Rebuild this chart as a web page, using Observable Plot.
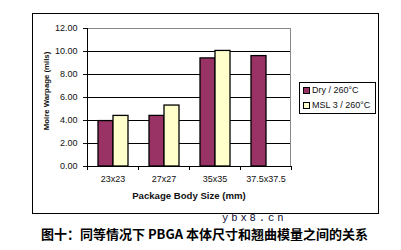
<!DOCTYPE html>
<html>
<head>
<meta charset="utf-8">
<script src="https://cdn.jsdelivr.net/npm/d3@7"></script>
<script src="https://cdn.jsdelivr.net/npm/@observablehq/plot@0.6"></script>
<style>
  html, body { margin: 0; padding: 0; background: #fff; }
  #wrap { position: relative; width: 401px; height: 250px; overflow: hidden; font-family: "Liberation Sans", Arial, sans-serif; }
  #chart { position: absolute; left: 0; top: 0; }
  .abs { position: absolute; white-space: nowrap; }
  #outer { left: 32px; top: 13px; width: 347px; height: 201px; border: 1px solid #000; box-sizing: border-box; }
  #legend { left: 299px; top: 82px; width: 77px; height: 32px; border: 1px solid #000; box-sizing: border-box; background: #fff; font-size: 9px; color: #111; }
  .lg { position: absolute; left: 3px; display: flex; align-items: center; }
  .sw { width: 5px; height: 5px; border: 1px solid #000; margin-right: 2px; }
  #ytitle { left: 46px; top: 91px; transform: translate(-50%, -50%) rotate(-90deg); font-size: 7.8px; font-weight: bold; color: #111; }
  #xtitle { left: 189px; top: 195px; transform: translate(-50%, -50%); font-size: 9.6px; font-weight: bold; color: #111; }
  #wm { left: 222px; top: 212.2px; font-family: "Liberation Mono", "DejaVu Sans Mono", monospace; font-size: 10.5px; letter-spacing: 2.9px; color: #0a0a30; line-height: 12px; }
  #caption { left: 41px; top: 227px; font-family: "Noto Sans CJK SC", sans-serif; font-weight: bold; font-size: 13px; line-height: 13px; color: #000; }
</style>
</head>
<body>
<div id="wrap">
  <div id="chart"></div>
  <div id="outer" class="abs"></div>
  <div id="legend" class="abs"></div>
  <div id="ytitle" class="abs">Moire Warpage (mils)</div>
  <div id="xtitle" class="abs">Package Body Size (mm)</div>
  <div id="wm" class="abs">ybx8.cn</div>
  <div id="caption" class="abs">图十：同等情况下 PBGA 本体尺寸和翘曲模量之间的关系</div>
</div>
<script>
const categories = ["23x23", "27x27", "35x35", "37.5x37.5"];
const series = ["Dry / 260°C", "MSL 3 / 260°C"];
const dryValues = [3.95, 4.4, 9.4, 9.6];
const mslValues = [4.4, 5.3, 10.05, null];
const colors = ["#993366", "#FFFFCC"];
const yTicks = [0, 2, 4, 6, 8, 10, 12];
const yGridTicks = [2, 4, 6, 8, 10];

const data = [];
categories.forEach((c, i) => {
  if (dryValues[i] != null) data.push({cat: c, series: series[0], value: dryValues[i]});
  if (mslValues[i] != null) data.push({cat: c, series: series[1], value: mslValues[i]});
});

const plot = Plot.plot({
  width: 401,
  height: 250,
  marginLeft: 87,
  marginRight: 110,
  marginTop: 28,
  marginBottom: 84,
  style: {fontFamily: "Liberation Sans, Arial, sans-serif", fontSize: "9px", color: "#111", background: "transparent"},
  fx: {domain: categories, padding: 0, label: null},
  x: {domain: series, paddingInner: 0, paddingOuter: 0.7, axis: null},
  y: {domain: [0, 12], label: null},
  color: {domain: series, range: colors},
  marks: [
    Plot.gridY(yGridTicks, {stroke: "#000", strokeOpacity: 1, strokeWidth: 1}),
    Plot.barY(data, {fx: "cat", x: "series", y: "value", fill: "series", stroke: "#000", strokeWidth: 1.3}),
    Plot.ruleY([0], {stroke: "#000", strokeWidth: 1}),
    Plot.axisY({ticks: yTicks, tickFormat: d3.format(".2f"), tickSize: 4, tickPadding: 6, label: null, fontSize: 9}),
    Plot.axisFx({anchor: "bottom", tickSize: 0, tickPadding: 9, label: null, fontSize: 9})
  ]
});
document.getElementById("chart").appendChild(plot);

// frame lines and category-boundary ticks derived from Plot's own scales
const fxs = plot.scale("fx");
const ys = plot.scale("y");
const fxBand = d3.scaleBand().domain(fxs.domain).range(fxs.range)
  .paddingInner(fxs.paddingInner ?? 0).paddingOuter(fxs.paddingOuter ?? 0);
const yLin = d3.scaleLinear().domain(ys.domain).range(ys.range);
const xL = fxBand.range()[0], xR = fxBand.range()[1];
const yTop = yLin(12), yBot = yLin(0);
const svg = d3.select(plot);
const g = svg.append("g");
g.append("line").attr("x1", xL).attr("x2", xR).attr("y1", yTop + 0.5).attr("y2", yTop + 0.5).attr("stroke", "#888");
g.append("line").attr("x1", xR - 0.5).attr("x2", xR - 0.5).attr("y1", yTop).attr("y2", yBot).attr("stroke", "#888");
g.append("line").attr("x1", xL + 0.5).attr("x2", xL + 0.5).attr("y1", yTop).attr("y2", yBot).attr("stroke", "#000");
const bounds = categories.map(c => fxBand(c)).concat([xR]);
g.selectAll(".bt").data(bounds).join("line")
  .attr("x1", d => Math.round(d) + 0.5).attr("x2", d => Math.round(d) + 0.5)
  .attr("y1", yBot).attr("y2", yBot + 4).attr("stroke", "#000");

// legend
const lg = document.getElementById("legend");
series.forEach((s, i) => {
  const row = document.createElement("div");
  row.className = "lg";
  row.style.top = (i === 0 ? 2 : 17) + "px";
  const sw = document.createElement("div");
  sw.className = "sw";
  sw.style.background = colors[i];
  const t = document.createElement("span");
  t.textContent = s;
  row.appendChild(sw); row.appendChild(t);
  lg.appendChild(row);
});
</script>
</body>
</html>
